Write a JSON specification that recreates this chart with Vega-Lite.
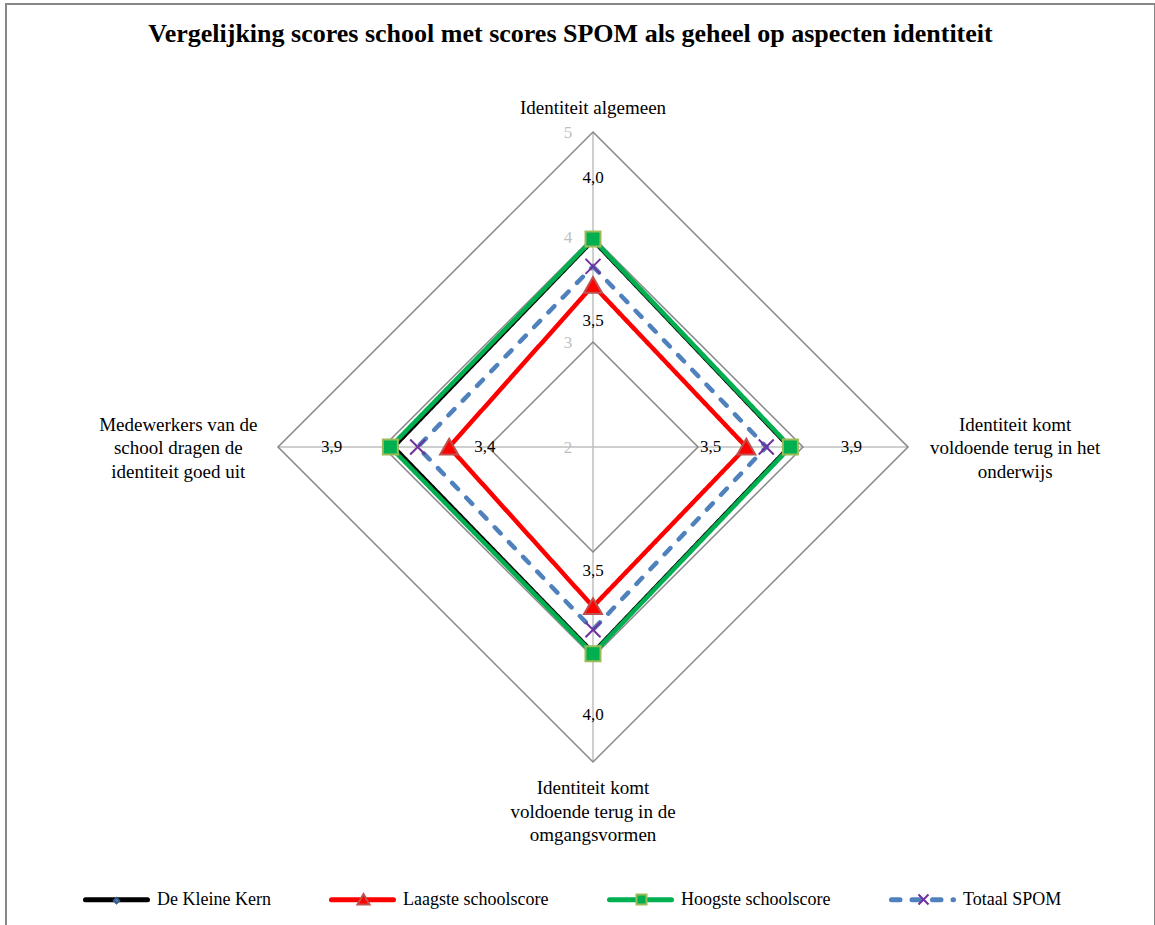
{
  "$schema": "https://vega.github.io/schema/vega-lite/v6.json",
  "width": 1149,
  "height": 923,
  "autosize": {"type": "none"},
  "padding": {"left": 6, "top": 4, "right": 0, "bottom": 0},
  "background": "white",
  "config": {
    "view": {"stroke": "#878787", "strokeWidth": 2},
    "font": "Liberation Serif"
  },
  "title": {
    "text": "Vergelijking scores school met scores SPOM als geheel op aspecten identiteit",
    "font": "Liberation Serif",
    "fontSize": 26,
    "fontWeight": "bold",
    "color": "#000000",
    "anchor": "middle",
    "baseline": "alphabetic",
    "offset": -64,
    "dx": -10
  },
  "datasets": {
    "scores": [
      {"series": "De Kleine Kern", "order": 0, "aspect": "Identiteit algemeen", "value": 3.97},
      {"series": "De Kleine Kern", "order": 1, "aspect": "Identiteit komt voldoende terug  in het onderwijs", "value": 3.87},
      {"series": "De Kleine Kern", "order": 2, "aspect": "Identiteit komt voldoende terug  in de omgangsvormen", "value": 3.96},
      {"series": "De Kleine Kern", "order": 3, "aspect": "Medewerkers van de school dragen de identiteit goed uit", "value": 3.9},
      {"series": "Laagste schoolscore", "order": 0, "aspect": "Identiteit algemeen", "value": 3.54},
      {"series": "Laagste schoolscore", "order": 1, "aspect": "Identiteit komt voldoende terug  in het onderwijs", "value": 3.46},
      {"series": "Laagste schoolscore", "order": 2, "aspect": "Identiteit komt voldoende terug  in de omgangsvormen", "value": 3.52},
      {"series": "Laagste schoolscore", "order": 3, "aspect": "Medewerkers van de school dragen de identiteit goed uit", "value": 3.37},
      {"series": "Hoogste schoolscore", "order": 0, "aspect": "Identiteit algemeen", "value": 3.98},
      {"series": "Hoogste schoolscore", "order": 1, "aspect": "Identiteit komt voldoende terug  in het onderwijs", "value": 3.88},
      {"series": "Hoogste schoolscore", "order": 2, "aspect": "Identiteit komt voldoende terug  in de omgangsvormen", "value": 3.97},
      {"series": "Hoogste schoolscore", "order": 3, "aspect": "Medewerkers van de school dragen de identiteit goed uit", "value": 3.93},
      {"series": "Totaal SPOM", "order": 0, "aspect": "Identiteit algemeen", "value": 3.72},
      {"series": "Totaal SPOM", "order": 1, "aspect": "Identiteit komt voldoende terug  in het onderwijs", "value": 3.65},
      {"series": "Totaal SPOM", "order": 2, "aspect": "Identiteit komt voldoende terug  in de omgangsvormen", "value": 3.74},
      {"series": "Totaal SPOM", "order": 3, "aspect": "Medewerkers van de school dragen de identiteit goed uit", "value": 3.67}
    ],
    "aspects": [
      {"order": 0, "aspect": "Identiteit algemeen", "label": "Identiteit algemeen"},
      {"order": 1, "aspect": "Identiteit komt voldoende terug  in het onderwijs", "label": "Identiteit komt\nvoldoende terug  in het\nonderwijs"},
      {"order": 2, "aspect": "Identiteit komt voldoende terug  in de omgangsvormen", "label": "Identiteit komt\nvoldoende terug  in de\nomgangsvormen"},
      {"order": 3, "aspect": "Medewerkers van de school dragen de identiteit goed uit", "label": "Medewerkers van de\nschool dragen de\nidentiteit goed uit"}
    ],
    "grid": [
      {"level": 3, "order": 0}, {"level": 3, "order": 1}, {"level": 3, "order": 2}, {"level": 3, "order": 3},
      {"level": 4, "order": 0}, {"level": 4, "order": 1}, {"level": 4, "order": 2}, {"level": 4, "order": 3},
      {"level": 5, "order": 0}, {"level": 5, "order": 1}, {"level": 5, "order": 2}, {"level": 5, "order": 3}
    ],
    "levels": [{"level": 2}, {"level": 3}, {"level": 4}, {"level": 5}]
  },
  "layer": [
    {
      "data": {"name": "aspects"},
      "transform": [
        {"calculate": "3*sin(datum.order*PI/2)", "as": "sx"},
        {"calculate": "3*cos(datum.order*PI/2)", "as": "sy"}
      ],
      "mark": {"type": "rule", "color": "#BFBFBF", "strokeWidth": 1.5},
      "encoding": {
        "x": {"field": "sx", "type": "quantitative", "scale": {"domain": [-5.5905, 5.3524], "nice": false, "zero": false}, "axis": null},
        "y": {"field": "sy", "type": "quantitative", "scale": {"domain": [-4.5714, 4.219], "nice": false, "zero": false}, "axis": null},
        "x2": {"datum": 0},
        "y2": {"datum": 0}
      }
    },
    {
      "data": {"name": "grid"},
      "transform": [
        {"calculate": "(datum.level-2)*sin(datum.order*PI/2)", "as": "gx"},
        {"calculate": "(datum.level-2)*cos(datum.order*PI/2)", "as": "gy"}
      ],
      "mark": {"type": "line", "interpolate": "linear-closed", "color": "#878787", "strokeWidth": 1.5},
      "encoding": {
        "x": {"field": "gx", "type": "quantitative", "scale": {"domain": [-5.5905, 5.3524], "nice": false, "zero": false}, "axis": null},
        "y": {"field": "gy", "type": "quantitative", "scale": {"domain": [-4.5714, 4.219], "nice": false, "zero": false}, "axis": null},
        "detail": {"field": "level", "type": "nominal"},
        "order": {"field": "order", "type": "quantitative"}
      }
    },
    {
      "data": {"name": "levels"},
      "transform": [{"calculate": "datum.level-2", "as": "ty"}, {"calculate": "0", "as": "tx"}],
      "mark": {"type": "text", "align": "center", "baseline": "middle", "dx": -25, "dy": 1, "fontSize": 17, "font": "Liberation Serif", "color": "#BFBFBF"},
      "encoding": {
        "x": {"field": "tx", "type": "quantitative", "scale": {"domain": [-5.5905, 5.3524], "nice": false, "zero": false}, "axis": null},
        "y": {"field": "ty", "type": "quantitative", "scale": {"domain": [-4.5714, 4.219], "nice": false, "zero": false}, "axis": null},
        "text": {"field": "level", "type": "nominal"}
      }
    },
    {
      "data": {"name": "aspects"},
      "transform": [
        {"calculate": "[0, 4.02, 0, -3.95][datum.order]", "as": "lx"},
        {"calculate": "[3.229, 0.21, -3.248, 0.21][datum.order]", "as": "ly"}
      ],
      "mark": {"type": "text", "align": "center", "baseline": "middle", "lineBreak": "\n", "lineHeight": 23.5, "fontSize": 19, "font": "Liberation Serif", "color": "#000000"},
      "encoding": {
        "x": {"field": "lx", "type": "quantitative", "scale": {"domain": [-5.5905, 5.3524], "nice": false, "zero": false}, "axis": null},
        "y": {"field": "ly", "type": "quantitative", "scale": {"domain": [-4.5714, 4.219], "nice": false, "zero": false}, "axis": null},
        "text": {"field": "label", "type": "nominal"}
      }
    },
    {
      "data": {"name": "scores"},
      "transform": [
        {"calculate": "datum.value-2", "as": "r"},
        {"calculate": "datum.r*sin(datum.order*PI/2)", "as": "px"},
        {"calculate": "datum.r*cos(datum.order*PI/2)", "as": "py"}
      ],
      "layer": [
        {
          "mark": {"type": "line", "interpolate": "linear-closed", "strokeWidth": 4.5, "strokeCap": "round", "strokeJoin": "miter"},
          "encoding": {
            "x": {"field": "px", "type": "quantitative", "scale": {"domain": [-5.5905, 5.3524], "nice": false, "zero": false}, "axis": null},
            "y": {"field": "py", "type": "quantitative", "scale": {"domain": [-4.5714, 4.219], "nice": false, "zero": false}, "axis": null},
            "order": {"field": "order", "type": "quantitative"},
            "color": {
              "field": "series", "type": "nominal",
              "scale": {"domain": ["De Kleine Kern", "Laagste schoolscore", "Hoogste schoolscore", "Totaal SPOM"], "range": ["#000000", "#FF0000", "#00B050", "#4F81BD"]},
              "legend": {"orient": "none", "legendX": 77, "legendY": 862, "direction": "horizontal", "title": null, "symbolType": "stroke", "symbolSize": 3844, "symbolStrokeWidth": 5, "labelFontSize": 18, "labelFont": "Liberation Serif", "labelColor": "#000000", "labelOffset": 7, "labelBaseline": "middle", "columnPadding": 50, "padding": 0, "symbolOpacity": 1, "encode": {"symbols": {"update": {"strokeCap": {"value": "round"}}}}}
            },
            "strokeDash": {
              "field": "series", "type": "nominal",
              "scale": {"domain": ["De Kleine Kern", "Laagste schoolscore", "Hoogste schoolscore", "Totaal SPOM"], "range": [[1, 0], [1, 0], [1, 0], [8.5, 12]]},
              "legend": {"orient": "none", "legendX": 77, "legendY": 862, "direction": "horizontal", "title": null, "symbolType": "stroke", "symbolSize": 3844, "symbolStrokeWidth": 5, "labelFontSize": 18, "labelFont": "Liberation Serif", "labelColor": "#000000", "labelOffset": 7, "labelBaseline": "middle", "columnPadding": 50, "padding": 0, "symbolOpacity": 1}
            }
          }
        },
        {
          "mark": {"type": "point", "filled": true, "size": 225, "strokeWidth": 2, "opacity": 1},
          "encoding": {
            "x": {"field": "px", "type": "quantitative", "scale": {"domain": [-5.5905, 5.3524], "nice": false, "zero": false}, "axis": null},
            "y": {"field": "py", "type": "quantitative", "scale": {"domain": [-4.5714, 4.219], "nice": false, "zero": false}, "axis": null},
            "fill": {
              "field": "series", "type": "nominal", "sort": null,
              "scale": {"range": ["#4F81BD", "#FF0000", "#00B050", "transparent"]},
              "legend": {"orient": "none", "legendX": 101.5, "legendY": 886.5, "direction": "horizontal", "title": null, "symbolSize": 100, "symbolStrokeWidth": 2, "labelFontSize": 18, "labelFont": "Liberation Serif", "labelOpacity": 0, "labelOffset": 56, "labelBaseline": "middle", "columnPadding": 58, "padding": 0, "symbolOpacity": 1, "encode": {"labels": {"update": {"y": {"value": -31}}}}}
            },
            "stroke": {
              "field": "series", "type": "nominal", "sort": null,
              "scale": {"range": ["#385D8A", "#C0504D", "#9BBB59", "#7030A0"]},
              "legend": {"orient": "none", "legendX": 101.5, "legendY": 886.5, "direction": "horizontal", "title": null, "symbolSize": 100, "symbolStrokeWidth": 2, "labelFontSize": 18, "labelFont": "Liberation Serif", "labelOpacity": 0, "labelOffset": 56, "labelBaseline": "middle", "columnPadding": 58, "padding": 0, "symbolOpacity": 1, "encode": {"labels": {"update": {"y": {"value": -31}}}}}
            },
            "shape": {
              "field": "series", "type": "nominal", "sort": null,
              "scale": {"range": ["M0,-0.55L0.55,0L0,0.55L-0.55,0Z", "M0,-1.1L1.2,1L-1.2,1Z", "square", "M-1,-1L1,1M-1,1L1,-1"]},
              "legend": {"orient": "none", "legendX": 101.5, "legendY": 886.5, "direction": "horizontal", "title": null, "symbolSize": 100, "symbolStrokeWidth": 2, "labelFontSize": 18, "labelFont": "Liberation Serif", "labelOpacity": 0, "labelOffset": 56, "labelBaseline": "middle", "columnPadding": 58, "padding": 0, "symbolOpacity": 1, "encode": {"labels": {"update": {"y": {"value": -31}}}}}
            }
          }
        },
        {
          "transform": [
            {"filter": "datum.series === 'De Kleine Kern' || datum.series === 'Laagste schoolscore'"},
            {"calculate": "datum.series === 'De Kleine Kern' ? datum.r + 0.59 : datum.r - 0.34", "as": "lr"},
            {"calculate": "datum.lr*sin(datum.order*PI/2)", "as": "lx"},
            {"calculate": "datum.lr*cos(datum.order*PI/2)", "as": "ly"},
            {"calculate": "replace(format(datum.value, '.1f'), '.', ',')", "as": "lab"}
          ],
          "mark": {"type": "text", "align": "center", "baseline": "middle", "fontSize": 17, "font": "Liberation Serif", "color": "#000000"},
          "encoding": {
            "x": {"field": "lx", "type": "quantitative", "scale": {"domain": [-5.5905, 5.3524], "nice": false, "zero": false}, "axis": null},
            "y": {"field": "ly", "type": "quantitative", "scale": {"domain": [-4.5714, 4.219], "nice": false, "zero": false}, "axis": null},
            "text": {"field": "lab", "type": "nominal"}
          }
        }
      ]
    }
  ]
}
